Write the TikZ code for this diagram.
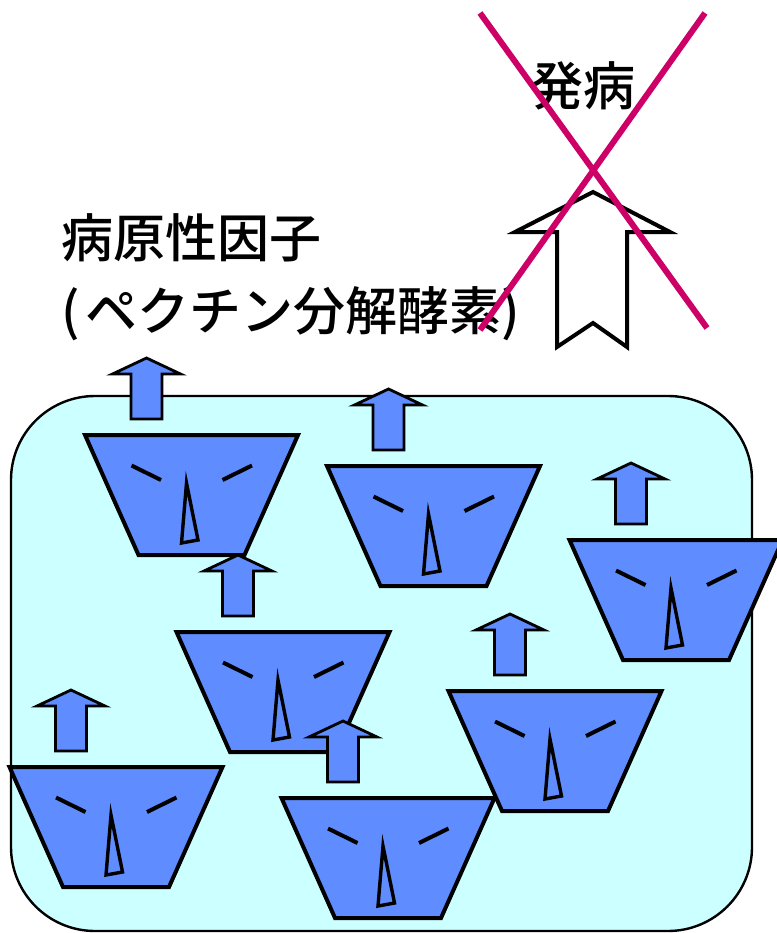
\documentclass[tikz,border=0pt]{standalone}
\usepackage{fontspec}
\newfontfamily\jpfont{Noto Sans CJK JP Medium}
\usepackage{xcolor}
\usetikzlibrary{calc}

\definecolor{facefill}{RGB}{95,140,255}
\definecolor{cellfill}{RGB}{204,255,255}
\definecolor{crossred}{RGB}{204,0,102}

\tikzset{
	face/.style = {draw, fill = facefill, line width = 4pt},
	lift/.style = {draw, fill = facefill, line width = 2.8pt},
	jptext/.style = {font = \jpfont\fontsize{52}{60}\selectfont, inner sep = 0pt}
}

\begin{document}
\begin{tikzpicture}[x = 1pt, y = -1pt]
			\useasboundingbox (0,0) rectangle (776,933);

			\begin{scope}
				\filldraw [fill = cellfill, line width = 2.4pt, rounded corners = 84pt] (11,396) rectangle (752,931);
			\end{scope}

			\foreach \cx/\ty in {191.5/435, 433.5/466, 676/540, 283/632, 116/767, 388/798, 555/691}
			{
				\begin{scope}[shift = {(\cx,\ty)}]
					\draw [lift] (-60.5,-16) -- (-60.5,-61) -- (-79,-61) -- (-45,-77) -- (-11,-61) -- (-29.5,-61) -- (-29.5,-16) -- cycle;
					\draw [face] (-106.5,0) -- (106.5,0) -- (53,120) -- (-53,120) -- cycle;
					\draw [line width = 4pt] (-60,30.5) -- (-30.5,45);
					\draw [line width = 4pt] (60.5,30.5) -- (31,45);
					\draw [line width = 3.4pt, fill = facefill] (-5,48) -- (6.5,105) -- (-10,108) -- cycle;
				\end{scope}
			}

			\begin{scope}
				\draw [line width = 4pt, fill = white] (557,347) -- (557,232) -- (515,232) -- (593,192) -- (670,232) -- (627,232) -- (627,347) -- (593,323) -- cycle;
			\end{scope}

			\begin{scope}
				\node [jptext] (onset) at (583,86) {発病};
				\node [jptext, anchor = west] (factor) at (61,238) {病原性因子};
				\node [jptext, anchor = west] (enzyme) at (61,314) {(\kern6pt ペクチン分解酵素)};
			\end{scope}

			\coordinate (crossNW) at (480,13);
			\coordinate (crossSE) at (707,328);
			\coordinate (crossNE) at (705,13);
			\coordinate (crossSW) at (480,330);

			\begin{scope}[crossred, line width = 6pt]
				\draw (crossNW) -- (crossSE);
				\draw (crossNE) -- (crossSW);
			\end{scope}
		\end{tikzpicture}
\end{document}
